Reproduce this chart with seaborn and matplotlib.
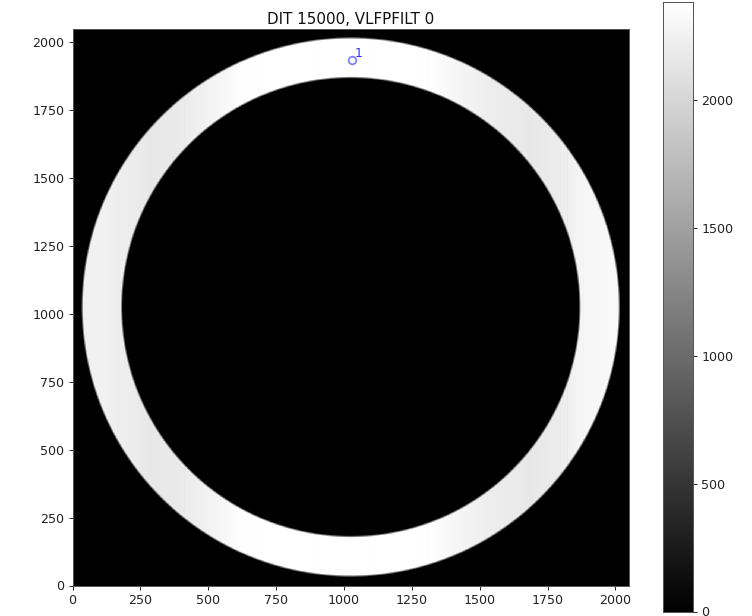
import numpy as np
import pandas as pd
import matplotlib
matplotlib.use('Agg')
import matplotlib.pyplot as plt
import seaborn as sns

# Detector geometry (detector pixels)
detector_size = 2048
ring_center = [1025, 1024]
outer_radius = 989
inner_radius = 844

# Ring brightness changes by detector column (column, counts)
profile_columns = [35, 100, 175, 285, 396, 470, 560, 635, 1310, 1390, 1538, 1685, 1795, 1870, 1943, 2010]
profile_levels = [2240, 2255, 2225, 2165, 2180, 2240, 2310, 2384, 2384, 2310, 2215, 2165, 2200, 2285, 2310, 2330]

# Faint vertical streaks (column, offset in counts)
streak_columns = [164, 410, 660, 690, 893, 1114, 1170, 1276, 1309, 1821, 1880]
streak_offsets = [-35, -30, -25, -30, -30, -20, -20, -25, -45, -80, -35]

# Marked source
source_x = [1029]
source_y = [1934]
source_labels = ['1']

color_max = 2384
cbar_ticks = [0, 500, 1000, 1500, 2000]
axis_ticks = [0, 250, 500, 750, 1000, 1250, 1500, 1750, 2000]

# Build the image, 1 detector pixel per cell
step = 1
coords = np.arange(0, detector_size, step) + step / 2
xx, yy = np.meshgrid(coords, coords)
radius = np.hypot(xx - ring_center[0], yy - ring_center[1])
image = np.interp(xx, profile_columns, profile_levels)
for col, offset in zip(streak_columns, streak_offsets):
    image[:, col:col + 4] += offset
image = np.minimum(image, color_max)

# Soft ring edges, about two screen pixels wide
edge = 8
fade = np.clip((outer_radius - radius) / edge + 0.5, 0, 1) * np.clip((radius - inner_radius) / edge + 0.5, 0, 1)
image_df = pd.DataFrame(image * fade)

fig = plt.figure(figsize=(7.52, 6.16), dpi=100)
ax = fig.add_axes([72.5 / 752, 1 - 585.5 / 616, 556 / 752, 557 / 616])
cax = fig.add_axes([663 / 752, 1 - 611.5 / 616, 30 / 752, 609.5 / 616])

sns.heatmap(image_df, ax=ax, cbar_ax=cax, cmap='gray', vmin=0, vmax=color_max,
            square=False, xticklabels=False, yticklabels=False,
            cbar_kws={'ticks': cbar_ticks})

ax.set_xlim(0, detector_size / step)
ax.set_ylim(0, detector_size / step)
ax.set_xticks(np.array(axis_ticks) / step)
ax.set_xticklabels(axis_ticks, rotation=0)
ax.set_yticks(np.array(axis_ticks) / step)
ax.set_yticklabels(axis_ticks, rotation=0)
ax.tick_params(labelsize=9.1, length=3, width=0.7, pad=3, colors='#222222')
for spine in ax.spines.values():
    spine.set_visible(True)
    spine.set_linewidth(0.7)
    spine.set_color('#555555')

ax.set_title('DIT 15000, VLFPFILT 0', fontsize=10.9, pad=3, color='#111111')

# Source marker, in cell coordinates
ax.plot(np.array(source_x) / step, np.array(source_y) / step, 'o', mfc='none',
        mec='#5555ff', mew=1.3, ms=5.5, alpha=0.75)
for sx, sy, lab in zip(source_x, source_y, source_labels):
    ax.text((sx + 12) / step, (sy + 10) / step, lab, color='#3333ff', fontsize=9)

cax.tick_params(labelsize=9.1, length=3, width=0.7, pad=3, colors='#222222')
for spine in cax.spines.values():
    spine.set_visible(True)
    spine.set_linewidth(0.7)
    spine.set_color('#555555')

fig.savefig('out.png', dpi=100)
